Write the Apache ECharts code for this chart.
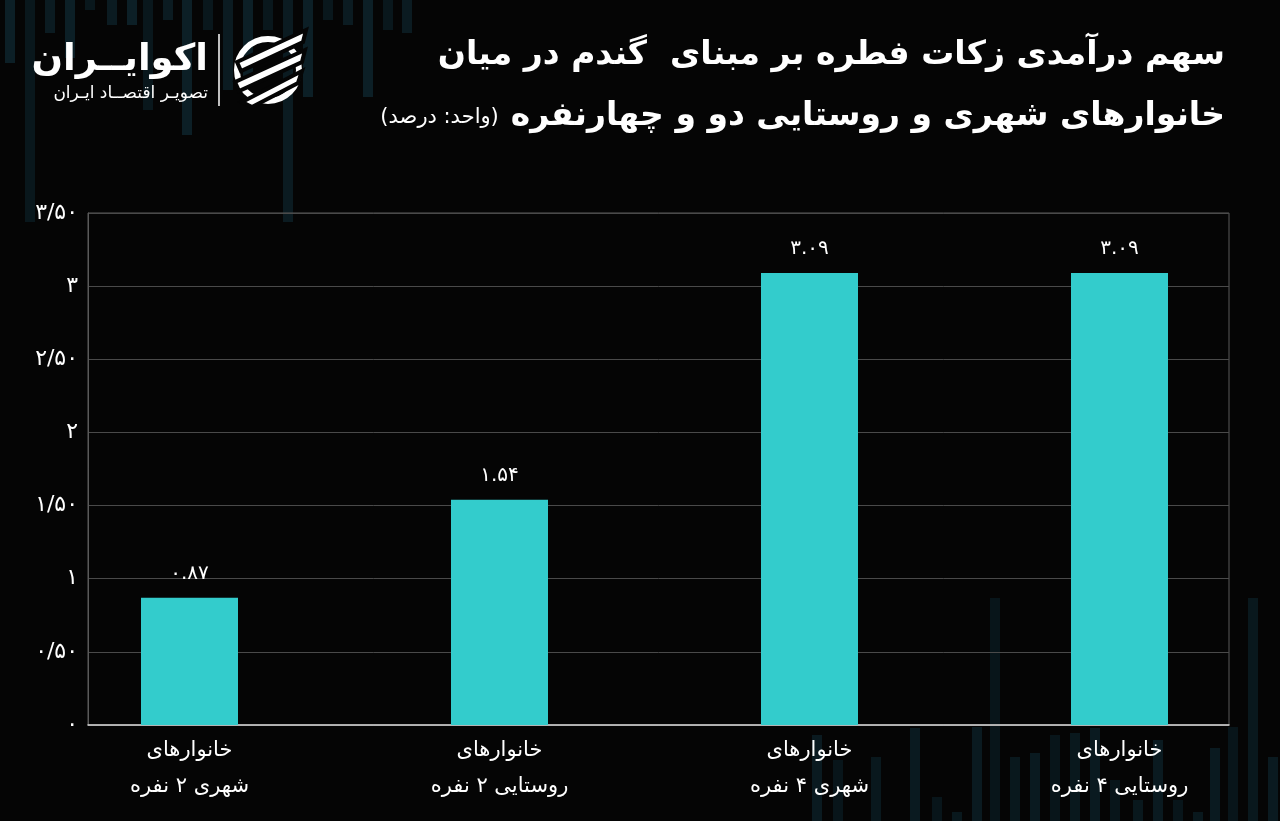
<!DOCTYPE html>
<html>
<head>
<meta charset="utf-8">
<script src="https://cdn.jsdelivr.net/npm/echarts@6/dist/echarts.min.js"></script>
<style>
  html, body { margin: 0; padding: 0; background: #050505; }
  #chart { width: 1280px; height: 821px; direction: rtl; }
</style>
</head>
<body>
<div id="chart"></div>
<script>
// ---- data ----
const categories = [
  'خانوارهای\nشهری ۲ نفره',
  'خانوارهای\nروستایی ۲ نفره',
  'خانوارهای\nشهری ۴ نفره',
  'خانوارهای\nروستایی ۴ نفره'
];
const values = [0.87, 1.54, 3.09, 3.09];
const yMin = 0, yMax = 3.5, yStep = 0.5;
const titleLine1 = 'سهم درآمدی زکات فطره بر مبنای  گندم در میان';
const titleLine2 = 'خانوارهای شهری و روستایی دو و چهارنفره';
const unitText = '(واحد: درصد)';
const brandName = 'اکوایــران';
const brandSub = 'تصویـر اقتصــاد ایـران';

// ---- helpers ----
const FA = '۰۱۲۳۴۵۶۷۸۹';
const toFa = s => String(s).replace(/[0-9]/g, d => FA[+d]);
const yFmt = v => (Math.abs(v % 1) < 1e-9) ? toFa(v.toFixed(0)) : toFa(v.toFixed(2)).replace('.', '/');
const FONT = '"DejaVu Sans", "Noto Sans", sans-serif';

// decorative background stripes [x, extent]
const topStripes = [[5,63],[25,222],[45,33],[65,58],[85,10],[107,25],[127,25],[143,110],[163,20],[182,135],[203,30],[223,90],[243,80],[263,30],[283,222],[303,97],[323,20],[343,25],[363,97],[383,30],[402,33]];
const bottomStripes = [[812,735],[833,760],[871,757],[910,728],[932,797],[952,812],[972,727],[990,598],[1010,757],[1030,753],[1050,735],[1070,733],[1090,728],[1110,780],[1133,800],[1153,740],[1173,800],[1193,812],[1210,748],[1228,727],[1248,598],[1268,757]];

const graphics = [];
topStripes.forEach((s, i) => graphics.push({
  type: 'rect', z: -10, silent: true,
  shape: { x: s[0], y: 0, width: 10, height: s[1] },
  style: { fill: i % 3 === 0 ? '#0c1f26' : (i % 3 === 1 ? '#09171c' : '#0b1b21') }
}));
bottomStripes.forEach((s, i) => graphics.push({
  type: 'rect', z: -10, silent: true,
  shape: { x: s[0], y: s[1], width: 10, height: 821 - s[1] },
  style: { fill: i % 3 === 0 ? '#0a1a20' : (i % 3 === 1 ? '#08151a' : '#09181d') }
}));

// brand / logo
graphics.push(
  { type: 'text', style: { text: brandName, x: 208, y: 60, textAlign: 'right', textVerticalAlign: 'middle', fill: '#ffffff', font: 'bold 37px ' + FONT } },
  { type: 'text', style: { text: brandSub, x: 208, y: 94, textAlign: 'right', textVerticalAlign: 'middle', fill: '#ffffff', font: '17px ' + FONT } },
  { type: 'line', shape: { x1: 219, y1: 34, x2: 219, y2: 106 }, style: { stroke: '#ffffff', lineWidth: 1.5 } },
  { type: 'circle', shape: { cx: 268, cy: 70, r: 31 }, style: { fill: 'none', stroke: '#ffffff', lineWidth: 6 } },
  { type: 'polygon', shape: { points: [[237,62],[306,30],[303,42],[241,71]] }, style: { fill: '#ffffff', stroke: '#050505', lineWidth: 4 } },
  { type: 'polygon', shape: { points: [[235,82],[305,50],[302,62],[239,91]] }, style: { fill: '#ffffff', stroke: '#050505', lineWidth: 4 } },
  { type: 'polygon', shape: { points: [[242,102],[302,71],[298,83],[252,107]] }, style: { fill: '#ffffff', stroke: '#050505', lineWidth: 4 } }
);

// title
graphics.push(
  { type: 'text', style: { text: titleLine1, x: 1225, y: 55, textAlign: 'right', textVerticalAlign: 'middle', fill: '#ffffff', font: 'bold 33px ' + FONT } },
  { type: 'text', style: {
      text: '{u|' + unitText + '}{b|' + titleLine2 + '}',
      x: 1225, y: 116, textAlign: 'right', textVerticalAlign: 'middle',
      rich: {
        u: { fill: '#ffffff', font: '21px ' + FONT, padding: [4, 12, 0, 0] },
        b: { fill: '#ffffff', font: 'bold 33px ' + FONT }
      }
  } }
);

const chart = echarts.init(document.getElementById('chart'));
chart.setOption({
  backgroundColor: '#050505',
  animation: false,
  textStyle: { fontFamily: FONT },
  graphic: graphics,
  grid: [
    { left: 88, right: 51, top: 213, bottom: 96, show: true, borderColor: '#5a5a5a', borderWidth: 1, backgroundColor: 'transparent' },
    { left: 34.5, right: 5.5, top: 213, bottom: 96 }
  ],
  xAxis: [
    { gridIndex: 0, type: 'category', data: categories,
      axisLine: { show: true, lineStyle: { color: '#d8d8d8', width: 1.5 } },
      axisTick: { show: false }, axisLabel: { show: false }, splitLine: { show: false } },
    { gridIndex: 1, type: 'category', data: categories,
      axisLine: { show: false }, axisTick: { show: false },
      axisLabel: { color: '#ffffff', fontSize: 21, lineHeight: 36, margin: 8, fontFamily: FONT } }
  ],
  yAxis: [
    { gridIndex: 0, type: 'value', min: yMin, max: yMax, interval: yStep,
      axisLine: { show: true, lineStyle: { color: '#5a5a5a' } },
      axisTick: { show: false },
      axisLabel: { formatter: yFmt, color: '#ffffff', fontSize: 22, margin: 10, fontFamily: FONT },
      splitLine: { lineStyle: { color: '#4a4a4a', width: 1 } } },
    { gridIndex: 1, type: 'value', min: yMin, max: yMax, interval: yStep, show: false,
      splitLine: { show: false } }
  ],
  series: [{
    type: 'bar', xAxisIndex: 1, yAxisIndex: 1,
    data: values, barWidth: 97,
    itemStyle: { color: '#33cccc' },
    label: { show: true, position: 'top', distance: 14, color: '#ffffff', fontSize: 20, fontFamily: FONT,
      formatter: p => toFa(p.value.toFixed(2)) }
  }]
});
</script>
</body>
</html>
